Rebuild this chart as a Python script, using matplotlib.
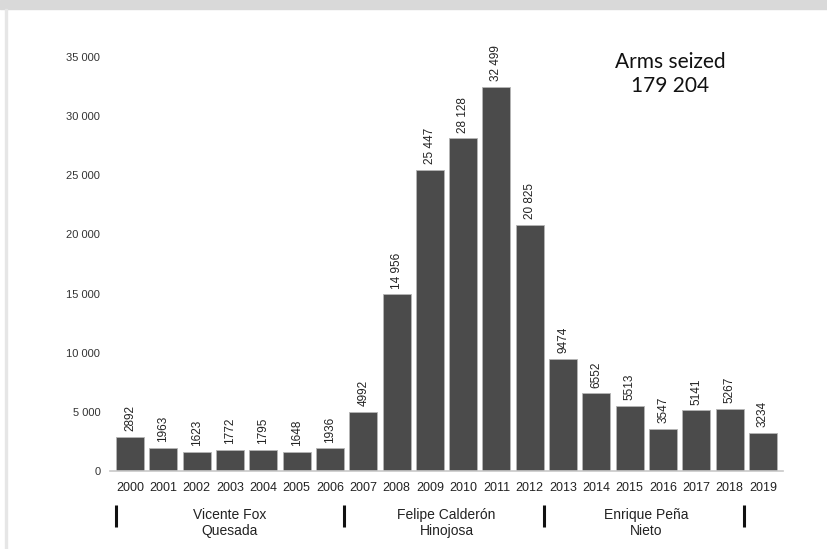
import matplotlib.pyplot as plt
from matplotlib.transforms import blended_transform_factory

# data
years = [str(y) for y in range(2000, 2020)]
arms = [2892, 1963, 1623, 1772, 1795, 1648, 1936, 4992, 14956, 25447,
        28128, 32499, 20825, 9474, 6552, 5513, 3547, 5141, 5267, 3234]
presidents = ["Vicente Fox\nQuesada", "Felipe Calderón\nHinojosa", "Enrique Peña\nNieto"]
term_first = [0, 7, 13]   # index of first year of each term
term_last = [6, 12, 18]   # index of last year of each term
total_label = "Arms seized\n179 204"

plt.rcParams['font.family'] = ['Liberation Sans', 'DejaVu Sans']

fig = plt.figure(figsize=(8.27, 5.49), dpi=100)

# grey strip and border from the page the chart was cut from
fig.patches.append(plt.Rectangle((0, 1 - 9 / 549), 1, 9 / 549, transform=fig.transFigure,
                                 color='#d9d9d9', zorder=0))
fig.patches.append(plt.Rectangle((5 / 827, 0), 1.5 / 827, 1 - 9 / 549, transform=fig.transFigure,
                                 color='#e6e6e6', zorder=0))

ax = fig.add_axes([110 / 827, 78 / 549, 673 / 827, 414 / 549])
x = list(range(len(years)))
bar_w = 0.84
ax.bar(x, arms, width=bar_w, color='#4b4b4b', edgecolor='#b5b5b5', linewidth=0.6, zorder=2)

ax.set_xlim(-0.6, 19.6)
ax.set_ylim(0, 35000)
ax.set_yticks(range(0, 35001, 5000))
ax.set_yticklabels([f"{v:,}".replace(',', ' ') for v in range(0, 35001, 5000)],
                   fontsize=8, color='#333333')
ax.set_xticks(x)
ax.set_xticklabels(years, fontsize=9, color='#222222')
ax.tick_params(axis='both', length=0)
ax.tick_params(axis='x', pad=8)
ax.tick_params(axis='y', pad=7)
for s in ['top', 'right', 'left']:
    ax.spines[s].set_visible(False)
ax.spines['bottom'].set_color('#c8c8c8')
ax.spines['bottom'].set_linewidth(1.2)

# value labels
for xi, v in zip(x, arms):
    lab = f"{v:,}".replace(',', ' ') if v >= 10000 else str(v)
    ax.annotate(lab, (xi, v), xytext=(0, 4), textcoords='offset points',
                rotation=90, ha='center', va='bottom', fontsize=8.5, color='#222222')

# presidential terms under the axis
trans = blended_transform_factory(ax.transData, ax.transAxes)
seps = [term_first[0] - bar_w / 2] + [t + bar_w / 2 for t in term_last]
for sx in seps:
    ax.plot([sx, sx], [-0.082, -0.135], transform=trans, color='#111111',
            linewidth=2.2, clip_on=False, solid_capstyle='butt')
for name, a, b in zip(presidents, term_first, term_last):
    ax.text((a + b) / 2, -0.126, name, transform=trans, ha='center', va='center',
            fontsize=10, color='#222222', linespacing=1.2)

fig.text(670 / 827, 1 - 74 / 549, total_label, ha='center', va='center',
         fontsize=15, family=['Lato', 'DejaVu Sans'], color='#111111', linespacing=1.2)

fig.savefig('out.png', dpi=100)
